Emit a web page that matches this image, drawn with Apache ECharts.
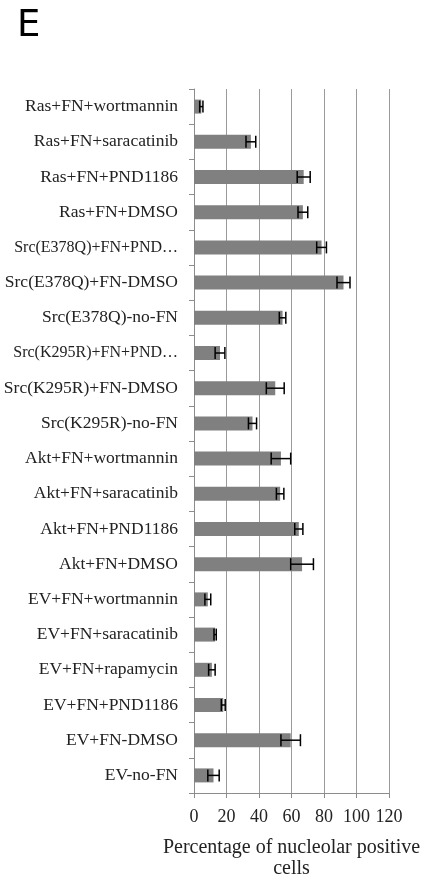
<!DOCTYPE html>
<html>
<head>
<meta charset="utf-8">
<script src="https://cdn.jsdelivr.net/npm/echarts@6/dist/echarts.min.js"></script>
<style>html,body{margin:0;padding:0;background:#fff}#c{width:438px;height:889px}</style>
</head>
<body>
<div id="c"></div>
<script>
// Categories listed top to bottom
const categories = [
  "Ras+FN+wortmannin",
  "Ras+FN+saracatinib",
  "Ras+FN+PND1186",
  "Ras+FN+DMSO",
  "Src(E378Q)+FN+PND\u2026",
  "Src(E378Q)+FN-DMSO",
  "Src(E378Q)-no-FN",
  "Src(K295R)+FN+PND\u2026",
  "Src(K295R)+FN-DMSO",
  "Src(K295R)-no-FN",
  "Akt+FN+wortmannin",
  "Akt+FN+saracatinib",
  "Akt+FN+PND1186",
  "Akt+FN+DMSO",
  "EV+FN+wortmannin",
  "EV+FN+saracatinib",
  "EV+FN+rapamycin",
  "EV+FN+PND1186",
  "EV+FN-DMSO",
  "EV-no-FN"
];
const values = [4.5, 35, 67.5, 67, 78.5, 92, 54.5, 16, 50, 36, 53.5, 53, 64.5, 66.5, 8.5, 13, 11, 18, 59.5, 12];
const errors = [1, 3, 4, 3, 3, 4, 2, 3, 5.5, 2.5, 6, 2.3, 2.5, 7, 1.8, 0.7, 2, 1.2, 6, 3.5];
const xTicks = [0, 20, 40, 60, 80, 100, 120];

const serif = '"Liberation Serif", "Times New Roman", serif';
const chart = echarts.init(document.getElementById('c'), null, {renderer: 'canvas'});

const errData = values.map((v, i) => [v, i, errors[i]]);
// truncated labels drawn a touch smaller so they fit like the original
const catData = categories.map(c => c.endsWith('\u2026')
  ? {value: c, textStyle: {fontSize: 16}} : c);

chart.setOption({
  animation: false,
  backgroundColor: '#fff',
  graphic: [{
    type: 'text', left: 17, top: 8,
    style: {text: 'E', font: '37px "DejaVu Sans", sans-serif', fill: '#000'}
  }],
  grid: {left: 194, right: 49, top: 89, bottom: 96, containLabel: false, outerBoundsMode: 'none'},
  xAxis: {
    type: 'value', min: xTicks[0], max: xTicks[xTicks.length - 1], interval: 20,
    axisLine: {show: true, lineStyle: {color: '#8c8c8c', width: 1}},
    axisTick: {show: true, length: 5, lineStyle: {color: '#8c8c8c'}},
    axisLabel: {margin: 15, color: '#222', fontFamily: serif, fontSize: 18},
    splitLine: {show: true, lineStyle: {color: '#9a9a9a', width: 1}},
    name: 'Percentage of nucleolar positive\ncells',
    nameLocation: 'middle', nameGap: 44,
    nameTextStyle: {color: '#222', fontFamily: serif, fontSize: 20, lineHeight: 21}
  },
  yAxis: {
    type: 'category', data: catData, inverse: true,
    axisLine: {show: true, lineStyle: {color: '#8c8c8c', width: 1}},
    axisTick: {show: true, length: 5, alignWithLabel: false, lineStyle: {color: '#8c8c8c'}},
    axisLabel: {margin: 16, color: '#222', fontFamily: serif, fontSize: 17.5, interval: 0},
    splitLine: {show: false}
  },
  series: [{
    type: 'bar', data: values, barWidth: 14,
    itemStyle: {color: '#808080'}
  }, {
    type: 'custom', data: errData, encode: {x: 0, y: 1}, z: 5,
    renderItem: function (params, api) {
      const v = api.value(0), idx = api.value(1), e = api.value(2);
      const lo = api.coord([v - e, idx]);
      const hi = api.coord([v + e, idx]);
      const h = 6;
      const st = {stroke: '#000', lineWidth: 1.5};
      return {type: 'group', children: [
        {type: 'line', shape: {x1: lo[0], y1: lo[1], x2: hi[0], y2: hi[1]}, style: st},
        {type: 'line', shape: {x1: lo[0], y1: lo[1] - h, x2: lo[0], y2: lo[1] + h}, style: st},
        {type: 'line', shape: {x1: hi[0], y1: hi[1] - h, x2: hi[0], y2: hi[1] + h}, style: st}
      ]};
    }
  }]
});
</script>
</body>
</html>
